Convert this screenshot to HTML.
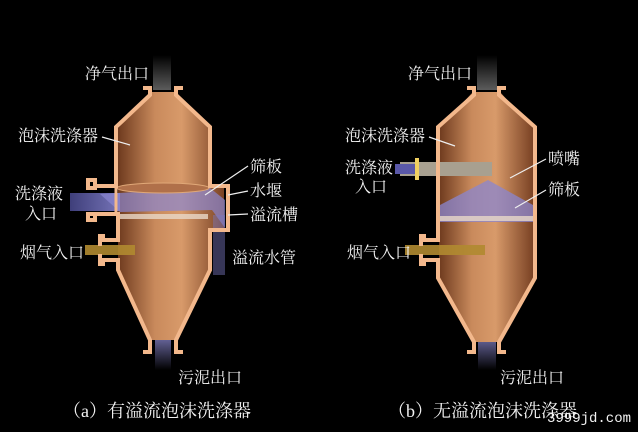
<!DOCTYPE html>
<html><head><meta charset="utf-8"><style>
html,body{margin:0;padding:0;background:#000;}
svg{display:block}
text{font-family:"Liberation Serif","Noto Serif CJK SC",serif;fill:#f2f2f2;}
</style></head><body>
<svg width="638" height="432" viewBox="0 0 638 432" xmlns="http://www.w3.org/2000/svg">
<defs>
<linearGradient id="cu" x1="0" x2="1" y1="0" y2="0">
<stop offset="0" stop-color="#6e3a1e"/><stop offset="0.35" stop-color="#c98a5c"/><stop offset="0.6" stop-color="#d89a6a"/><stop offset="1" stop-color="#7a4224"/>
</linearGradient>
<linearGradient id="blue" x1="0" x2="1"><stop offset="0" stop-color="#4a4a90"/><stop offset="1" stop-color="#8a88d8"/></linearGradient>
<linearGradient id="steam" x1="0" x2="0" y1="0" y2="1"><stop offset="0" stop-color="#000"/><stop offset="1" stop-color="#999"/></linearGradient>
<linearGradient id="mud" x1="0" x2="0" y1="0" y2="1"><stop offset="0" stop-color="#7a78b8"/><stop offset="1" stop-color="#000"/></linearGradient>
</defs>
<rect width="638" height="432" fill="#000"/>

<!-- ===== LEFT VESSEL ===== -->
<rect x="153" y="55" width="18" height="35" fill="url(#steam)" opacity="0.6"/>
<rect x="155" y="340" width="16" height="30" fill="url(#mud)" opacity="0.8"/>
<path d="M150,92 H176 L208,128 V186 H224 V228 H208 V270 L176,340 H150 L118,270 V186 H118 L118,128 Z" fill="url(#cu)"/>
<rect x="70" y="193" width="50" height="18" fill="url(#blue)" opacity="0.85"/>
<path d="M100,194 L210,188 L225,200 L225,228 L212,210 L120,212 Z" fill="#8a86d0" opacity="0.7"/>
<rect x="213" y="215" width="12" height="60" fill="#7a78c0" opacity="0.45"/>
<rect x="118" y="214" width="90" height="5" fill="#e8d8c8" opacity="0.8"/>
<ellipse cx="163" cy="188" rx="46" ry="5" fill="#b0704a" stroke="#e0a878" stroke-width="1"/>
<rect x="85" y="245" width="50" height="10" fill="#b08a30" opacity="0.9"/>
<path d="M143,88 H150 V95 L116,127 V186 H95 V180 H88 V188 H95 V186 M95,214 H88 V220 H95 V214 H118 V240 H103 V236 H100 V246 M100,254 V264 H103 V260 H118 V270 L150,340 V352 H143
M183,88 H176 V95 L210,127 V186 H228 V230 H210 V270 L176,340 V352 H183"
 fill="none" stroke="#f3b88c" stroke-width="4" stroke-linejoin="miter"/>
<path d="M116,188 V214" stroke="#f3b88c" stroke-width="3"/>

<!-- ===== RIGHT VESSEL ===== -->
<rect x="477" y="55" width="20" height="35" fill="url(#steam)" opacity="0.6"/>
<rect x="478" y="340" width="18" height="30" fill="url(#mud)" opacity="0.8"/>
<path d="M473,92 H500 L533,128 V278 L500,342 H473 L439,278 V128 Z" fill="url(#cu)"/>
<path d="M488,180 L440,205 L440,222 L533,222 L533,205 Z" fill="#8a86d0" opacity="0.75"/>
<rect x="440" y="216" width="93" height="5" fill="#e8d8c8" opacity="0.8"/>
<rect x="400" y="162" width="92" height="14" fill="#a8a090"/>
<rect x="395" y="164" width="20" height="10" fill="#5a58a8"/>
<rect x="415" y="158" width="4" height="22" fill="#f0d060"/>
<rect x="405" y="245" width="80" height="10" fill="#b08a30" opacity="0.9"/>
<path d="M467,88 H474 V95 L438,127 V240 H424 V236 H421 V246 M421,254 V264 H424 V260 H438 V278 L474,342 V352 H467
M506,88 H499 V95 L535,127 V278 L499,342 V352 H506"
 fill="none" stroke="#f3b88c" stroke-width="4"/>

<g stroke="#eee" stroke-width="1.2">
<line x1="102" y1="137" x2="130" y2="145"/>
<line x1="248" y1="166" x2="205" y2="195"/>
<line x1="248" y1="191" x2="228" y2="195"/>
<line x1="248" y1="214" x2="228" y2="215"/>
<line x1="429" y1="137" x2="455" y2="146"/>
<line x1="546" y1="159" x2="510" y2="178"/>
<line x1="546" y1="190" x2="515" y2="208"/>
</g>

<g font-size="16">
<text x="85" y="79">净气出口</text>
<text x="18" y="141">泡沫洗涤器</text>
<text x="250" y="172">筛板</text>
<text x="250" y="196">水堰</text>
<text x="250" y="220">溢流槽</text>
<text x="15" y="199">洗涤液</text>
<text x="25" y="219">入口</text>
<text x="20" y="258">烟气入口</text>
<text x="232" y="263">溢流水管</text>
<text x="178" y="383">污泥出口</text>

<text x="408" y="79">净气出口</text>
<text x="345" y="141">泡沫洗涤器</text>
<text x="548" y="164">喷嘴</text>
<text x="548" y="195">筛板</text>
<text x="345" y="173">洗涤液</text>
<text x="355" y="192">入口</text>
<text x="347" y="258">烟气入口</text>
<text x="500" y="383">污泥出口</text>
</g>
<g font-size="18">
<text x="63" y="417">（a）有溢流泡沫洗涤器</text>
<text x="388" y="417">（b）无溢流泡沫洗涤器</text>
</g>
<text x="547" y="422" font-size="14" style="font-family:'Liberation Mono',monospace" fill="#fff">3999jd.com</text>
</svg>
</body></html>
